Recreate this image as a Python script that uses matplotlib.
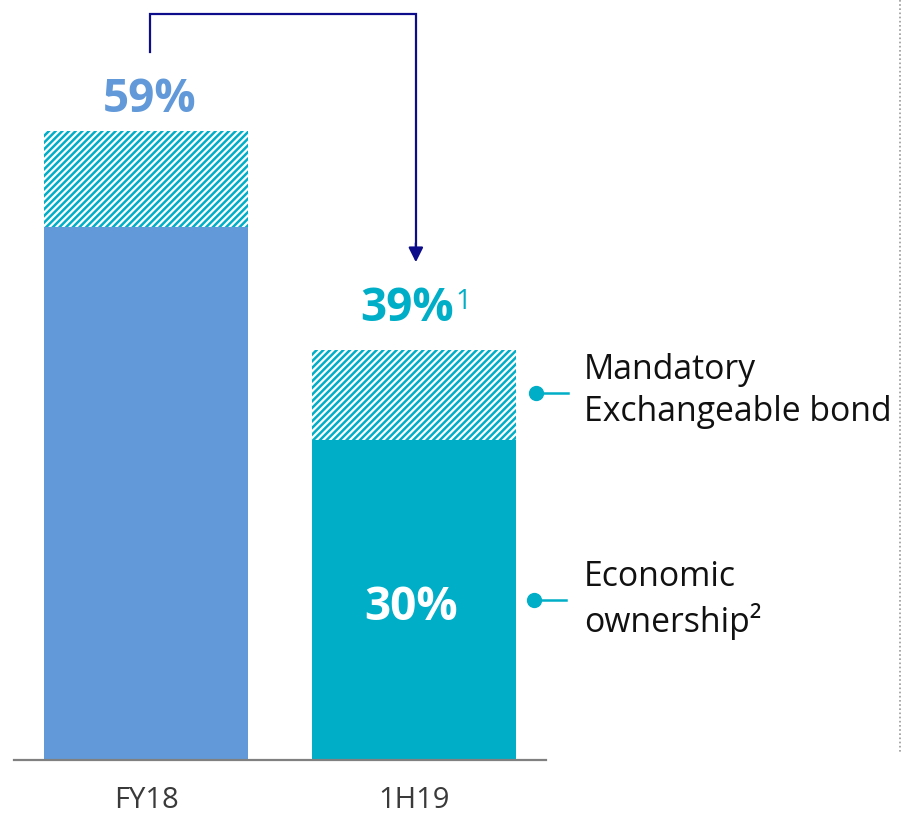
import matplotlib.pyplot as plt

plt.rcParams['font.family'] = ['Open Sans', 'DejaVu Sans']
plt.rcParams['hatch.linewidth'] = 1.8

periodos = ['FY18', '1H19']
economico = [50, 30]   # economic ownership (%)
bond = [9, 8.5]        # mandatory exchangeable bond (%)
rotulos = ['59%', '39%']

azul = '#6199d9'
teal = '#00aec7'
navy = '#0d0d8c'
cores = [azul, teal]

fig = plt.figure(figsize=(9.03, 8.16), dpi=100)
ax = fig.add_axes([0, 0, 1, 1])
ax.set_xlim(-0.545, 2.825)
ax.set_ylim(-5.25, 71.3)
ax.axis('off')

x = [0, 1]
ax.bar(x, economico, width=0.761, color=cores, linewidth=0, zorder=2)
ax.bar(x, bond, bottom=economico, width=0.761, color='white', edgecolor=teal,
       hatch='/////', linewidth=0, zorder=2)

# linha de base
ax.plot([-0.493, 1.493], [0, 0], color='#808080', lw=1.6, zorder=3)

# rotulos do eixo
for i, p in enumerate(periodos):
    ax.text(x[i], -3.8, p, ha='center', va='center', fontsize=21, color='#3a3a3a')

# totais
ax.text(x[0] + 0.015, 62.0, rotulos[0], ha='center', va='center',
        fontsize=33, fontweight='bold', color=azul)
t39 = ax.text(x[1] - 0.025, 42.4, rotulos[1], ha='center', va='center',
              fontsize=33, fontweight='bold', color=teal)
ax.annotate('1', xy=(1.0, 0.93), xycoords=t39, xytext=(1, 0), textcoords='offset points',
            ha='left', va='top', fontsize=20, color=teal)
ax.text(x[1] - 0.01, 14.3, '30%', ha='center', va='center',
        fontsize=33, fontweight='bold', color='white')

# seta FY18 -> 1H19
ax.plot([0.015, 0.015, 1.007, 1.007], [66.4, 70.0, 70.0, 48.0], color=navy, lw=1.6,
        solid_joinstyle='miter', zorder=3)
ax.annotate('', xy=(1.007, 46.7), xytext=(1.007, 48.5),
            arrowprops=dict(arrowstyle='-|>', color=navy, lw=1.6,
                            mutation_scale=22, shrinkA=0, shrinkB=0))

# legenda lateral
ax.plot([1.455, 1.575], [34.4, 34.4], color=teal, lw=1.8)
ax.plot([1.455], [34.4], 'o', color=teal, ms=10)
ax.text(1.635, 34.6, 'Mandatory\nExchangeable bond', ha='left', va='center',
        fontsize=24.3, color='#111111', linespacing=1.32)
ax.plot([1.447, 1.567], [15.0, 15.0], color=teal, lw=1.8)
ax.plot([1.447], [15.0], 'o', color=teal, ms=10)
ax.text(1.635, 15.0, 'Economic\nownership²', ha='left', va='center',
        fontsize=24.3, color='#111111', linespacing=1.32)

# linha pontilhada a direita
ax.plot([2.815, 2.815], [71.3, 0.8], color='#999999', lw=1.2, ls=(0, (1, 1.5)))

fig.savefig('out.png', dpi=100)
